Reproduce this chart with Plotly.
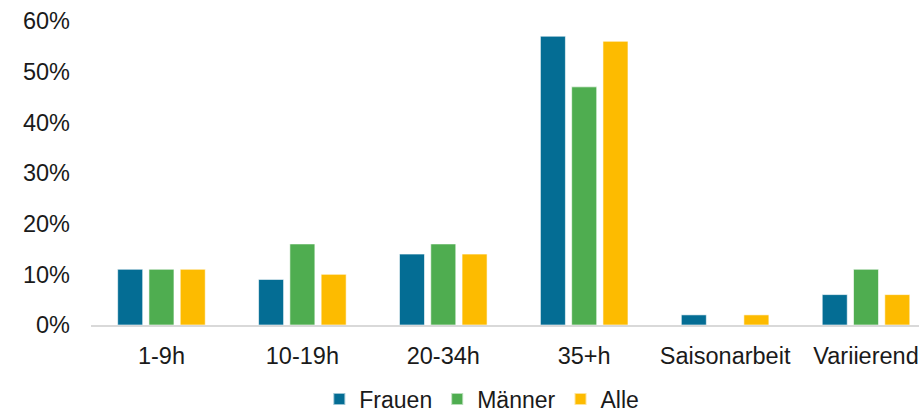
import plotly.graph_objects as go

categories = ["1-9h", "10-19h", "20-34h", "35+h", "Saisonarbeit", "Variierend"]
frauen = [0.11, 0.09, 0.14, 0.57, 0.02, 0.06]
maenner = [0.11, 0.16, 0.16, 0.47, 0.0, 0.11]
alle = [0.11, 0.10, 0.14, 0.56, 0.02, 0.06]
y_ticks = [0, 0.1, 0.2, 0.3, 0.4, 0.5, 0.6]
y_tick_labels = ["0%", "10%", "20%", "30%", "40%", "50%", "60%"]

series = [("Frauen", frauen, "#046d94"), ("Männer", maenner, "#4fad50"), ("Alle", alle, "#fdbb00")]

fig = go.Figure()
for name, vals, col in series:
    fig.add_trace(go.Bar(
        x=categories, y=vals, name=name,
        marker=dict(color=col, line=dict(color="rgba(255,255,255,0.6)", width=1)),
    ))

font = "Liberation Sans, Arial, sans-serif"
fig.update_layout(
    width=919, height=414,
    margin=dict(l=91, r=0, t=21, b=89),
    paper_bgcolor="white", plot_bgcolor="white",
    barmode="group", bargap=0.334, bargroupgap=0.2,
    font=dict(family=font, size=23.5, color="#1a1a1a"),
    showlegend=True,
    legend=dict(orientation="h", x=0.472, xanchor="center",
                yref="container", y=(414 - 399) / 414, yanchor="middle",
                font=dict(size=23, family=font, color="#1a1a1a"), traceorder="normal",
                itemsizing="constant"),
    xaxis=dict(range=[-0.5, 5.376], showline=True, linecolor="#d9d9d9", linewidth=2,
               showgrid=False, zeroline=False, ticks="", ticklabelstandoff=9,
               automargin=False,
               tickfont=dict(size=23.5, family=font, color="#1a1a1a")),
    yaxis=dict(range=[0, 0.6], tickvals=y_ticks, ticktext=y_tick_labels, showgrid=False,
               zeroline=False, showline=False, ticks="", ticklabelstandoff=20,
               automargin=False,
               tickfont=dict(size=23.5, family=font, color="#1a1a1a")),
)

fig.write_html("out.html", config={"displayModeBar": False},
               post_script="document.body.style.margin='0';document.body.style.overflow='hidden';")
